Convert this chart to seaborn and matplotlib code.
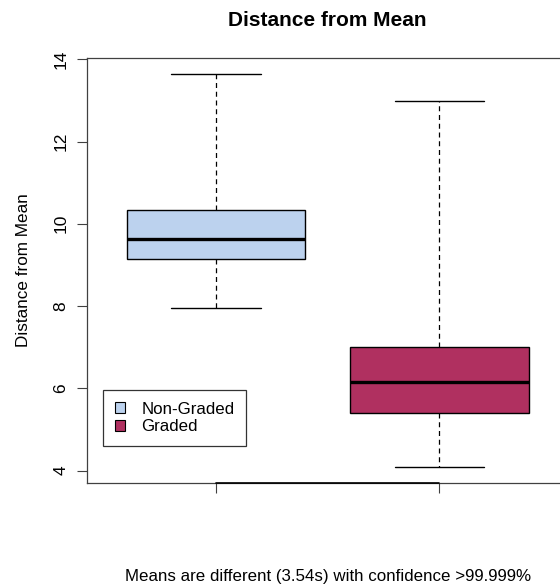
import numpy as np
import pandas as pd
import matplotlib
matplotlib.use("Agg")
import matplotlib.pyplot as plt
import seaborn as sns
from matplotlib.patches import Patch

# five-number summaries (min, q1, median, q3, max)
groups = ["Non-Graded", "Graded"]
non_graded = [7.96, 9.14, 9.64, 10.33, 13.64]
graded = [4.09, 5.41, 6.15, 7.00, 12.99]
colors = ["#BCD2EE", "#B03060"]
y_ticks = [4, 6, 8, 10, 12, 14]

TITLE = "Distance from Mean"
Y_LABEL = "Distance from Mean"
FOOTER = "Means are different (3.54s) with confidence >99.999%"


def build_frame():
    rows = []
    for name, vals in zip(groups, [non_graded, graded]):
        for v in vals:
            rows.append({"group": name, "value": v})
    return pd.DataFrame(rows)


def main():
    sns.set_style("white")
    plt.rcParams["font.family"] = ["Liberation Sans", "DejaVu Sans"]
    plt.rcParams["text.color"] = "black"

    df = build_frame()

    fig = plt.figure(figsize=(5.6, 5.84), dpi=100)
    ax = fig.add_axes([86.5 / 560, 1 - 483 / 584, 482.3 / 560, 425 / 584])

    sns.boxplot(
        data=df, x="group", y="value", hue="group", order=groups,
        hue_order=groups, palette=colors, saturation=1, width=0.8,
        whis=(0, 100), linecolor="black", linewidth=1.0, legend=False,
        medianprops=dict(linewidth=2.4, color="black"),
        whiskerprops=dict(linestyle=(0, (4, 3)), linewidth=0.9),
        capprops=dict(linewidth=1.0),
        ax=ax,
    )

    ax.set_xlim(-0.58, 1.58)
    ax.set_ylim(3.70, 14.03)
    ax.set_yticks(y_ticks)
    ax.set_yticklabels([str(t) for t in y_ticks], rotation=90, va="center")
    ax.set_xticks(range(len(groups)))
    ax.set_xticklabels([])
    ax.set_xlabel("")
    ax.set_ylabel("")
    ax.tick_params(axis="both", direction="out", length=7, width=0.8,
                   color="#404040", labelcolor="black", labelsize=12.5,
                   pad=6, left=True, bottom=True)

    for sp in ax.spines.values():
        sp.set_visible(True)
        sp.set_color("#404040")
        sp.set_linewidth(0.9)

    # R style axis line joining the two group ticks
    ax.plot(range(len(groups)), [ax.get_ylim()[0]] * len(groups),
            color="black", lw=1.2, clip_on=False, zorder=5)

    handles = [Patch(facecolor=c, edgecolor="black", linewidth=0.8, label=g)
               for c, g in zip(colors, groups)]
    leg = ax.legend(
        handles=handles, loc="lower left", bbox_to_anchor=(0.0348, 0.087),
        borderaxespad=0, fancybox=False, frameon=True, fontsize=12.2,
        handlelength=0.6, handleheight=0.6, handletextpad=0.95,
        labelspacing=0.15, borderpad=0.7,
    )
    leg.get_frame().set_edgecolor("black")
    leg.get_frame().set_linewidth(0.9)
    for t in leg.get_texts():
        t.set_color("black")

    fig.text(0.585, 1 - 21 / 584, TITLE, ha="center", va="center",
             fontsize=15, fontweight="bold")
    fig.text(24 / 560, 1 - 270.5 / 584, Y_LABEL, ha="center", va="center",
             rotation=90, fontsize=12.3)
    fig.text(0.585, 1 - 576 / 584, FOOTER, ha="center", va="center",
             fontsize=12.2)

    fig.savefig("out.png", dpi=100)
    plt.close(fig)


if __name__ == "__main__":
    main()
